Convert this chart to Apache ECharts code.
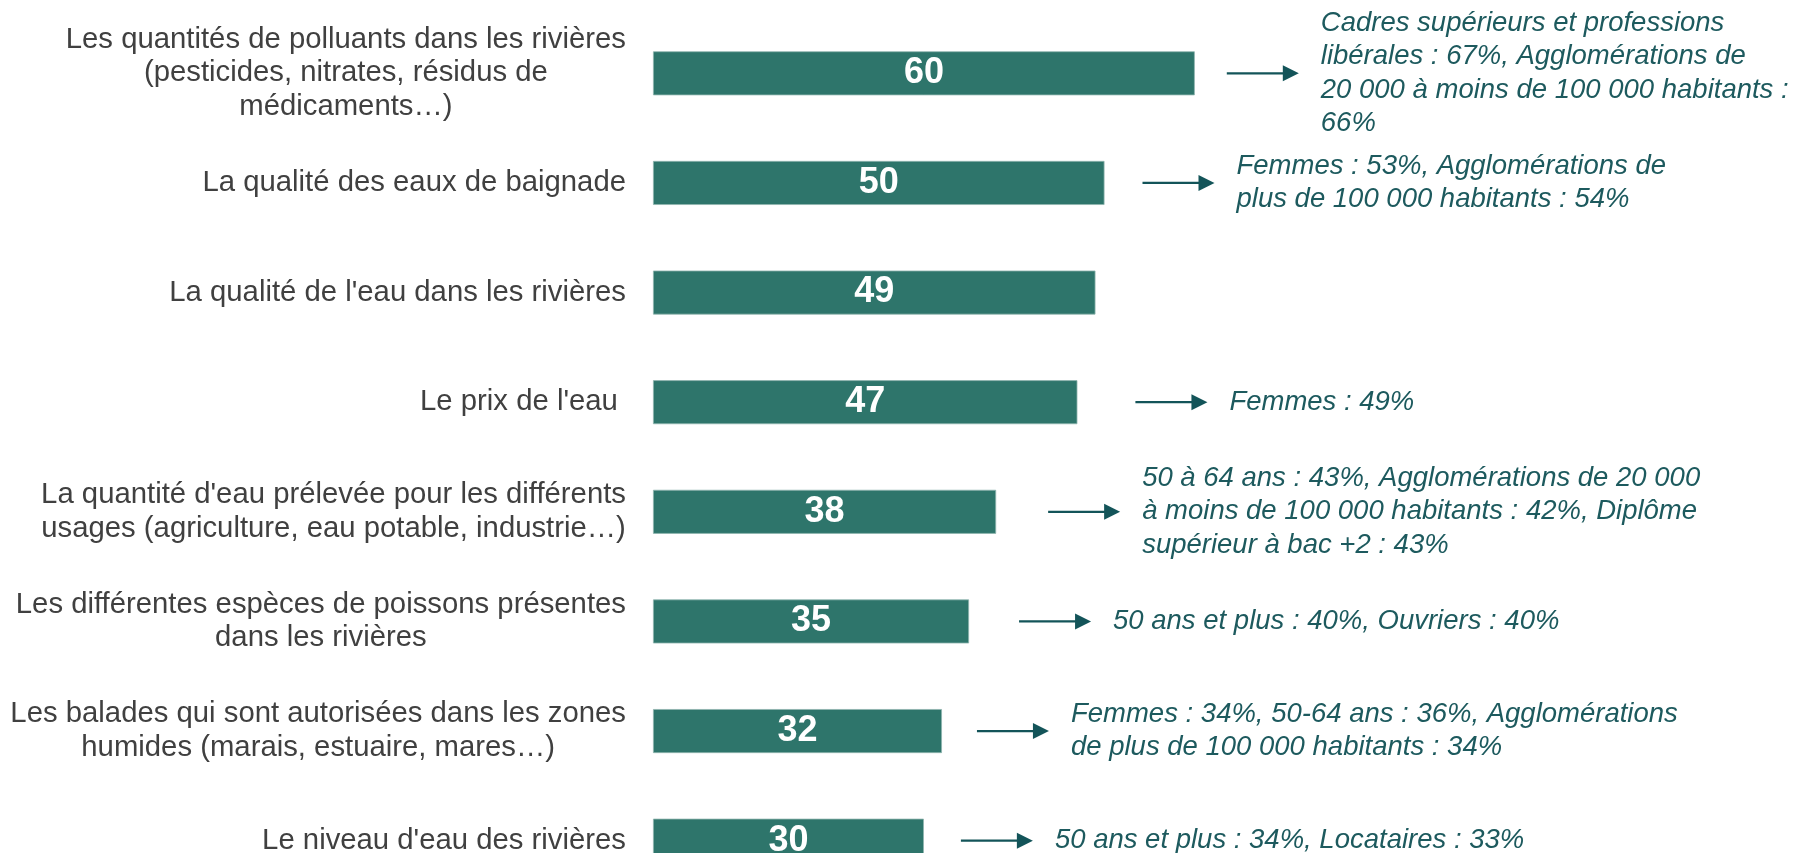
<!DOCTYPE html>
<html>
<head>
<meta charset="utf-8">
<script src="https://cdn.jsdelivr.net/npm/echarts@6/dist/echarts.min.js"></script>
<style>
  html, body { margin: 0; padding: 0; background: #fff; }
  #main { width: 1802px; height: 853px; }
</style>
</head>
<body>
<div id="main"></div>
<script>
var categories = [
    "Les quantités de polluants dans les rivières\n(pesticides, nitrates, résidus de\nmédicaments…)",
    "La qualité des eaux de baignade",
    "La qualité de l'eau dans les rivières",
    "Le prix de l'eau ",
    "La quantité d'eau prélevée pour les différents\nusages (agriculture, eau potable, industrie…)",
    "Les différentes espèces de poissons présentes\ndans les rivières",
    "Les balades qui sont autorisées dans les zones\nhumides (marais, estuaire, mares…)",
    "Le niveau d'eau des rivières"
];

var values = [60, 50, 49, 47, 38, 35, 32, 30];

var notes = [
    "Cadres supérieurs et professions\nlibérales : 67%, Agglomérations de\n20 000 à moins de 100 000 habitants :\n66%",
    "Femmes : 53%, Agglomérations de\nplus de 100 000 habitants : 54%",
    "",
    "Femmes : 49%",
    "50 à 64 ans : 43%, Agglomérations de 20 000\nà moins de 100 000 habitants : 42%, Diplôme\nsupérieur à bac +2 : 43%",
    "50 ans et plus : 40%, Ouvriers : 40%",
    "Femmes : 34%, 50-64 ans : 36%, Agglomérations\nde plus de 100 000 habitants : 34%",
    "50 ans et plus : 34%, Locataires : 33%"
];

// layout only: gap in px between bar end and arrow start
var arrowGaps = [32, 38, 0, 58, 52, 50, 35, 37];

var barColor = '#2e756b';
var noteColor = '#1d5a5e';
var arrowColor = '#135459';
var font = '"Liberation Sans", Arial, sans-serif';

window.addEventListener('load', function () {
    var chart = echarts.init(document.getElementById('main'));

    var option = {
        backgroundColor: '#fff',
        animation: false,
        grid: { left: 653, top: 18.5, width: 903, height: 877, outerBoundsMode: 'none', containLabel: false },
        xAxis: {
            type: 'value',
            min: 0,
            max: 100,
            show: false
        },
        yAxis: {
            type: 'category',
            inverse: true,
            data: categories,
            axisLine: { show: false },
            axisTick: { show: false },
            splitLine: { show: false },
            axisLabel: {
                margin: 27,
                align: 'right',
                formatter: function (v) {
                    return v.split('\n').map(function (s) { return '{c|' + s + '}'; }).join('\n');
                },
                rich: {
                    c: {
                        align: 'center',
                        fontFamily: font,
                        fontSize: 29.3,
                        lineHeight: 33.5,
                        color: '#404040'
                    }
                }
            }
        },
        series: [
            {
                type: 'bar',
                data: values,
                barWidth: 44,
                itemStyle: { color: barColor, borderColor: '#8fb5ae', borderWidth: 0.8 },
                label: {
                    show: true,
                    position: 'inside',
                    color: '#fff',
                    fontFamily: font,
                    fontWeight: 'bold',
                    fontSize: 36
                }
            },
            {
                type: 'custom',
                silent: true,
                clip: false,
                data: values.map(function (v, i) { return [v, i]; }),
                encode: { x: 0, y: 1 },
                renderItem: function (params, api) {
                    var i = params.dataIndex;
                    if (!notes[i]) return;
                    var end = api.coord([api.value(0), api.value(1)]);
                    var x0 = end[0] + arrowGaps[i];
                    var y = end[1];
                    return {
                        type: 'group',
                        children: [
                            {
                                type: 'line',
                                shape: { x1: x0, y1: y, x2: x0 + 58, y2: y },
                                style: { stroke: arrowColor, lineWidth: 2.3 }
                            },
                            {
                                type: 'polygon',
                                shape: { points: [[x0 + 56, y - 8], [x0 + 72, y], [x0 + 56, y + 8]] },
                                style: { fill: arrowColor }
                            },
                            {
                                type: 'text',
                                x: x0 + 94,
                                y: y,
                                style: {
                                    text: notes[i],
                                    fill: noteColor,
                                    fontFamily: font,
                                    fontStyle: 'italic',
                                    fontSize: 27.5,
                                    lineHeight: 33.3,
                                    align: 'left',
                                    verticalAlign: 'middle'
                                }
                            }
                        ]
                    };
                }
            }
        ]
    };

    chart.setOption(option);
});
</script>
</body>
</html>
